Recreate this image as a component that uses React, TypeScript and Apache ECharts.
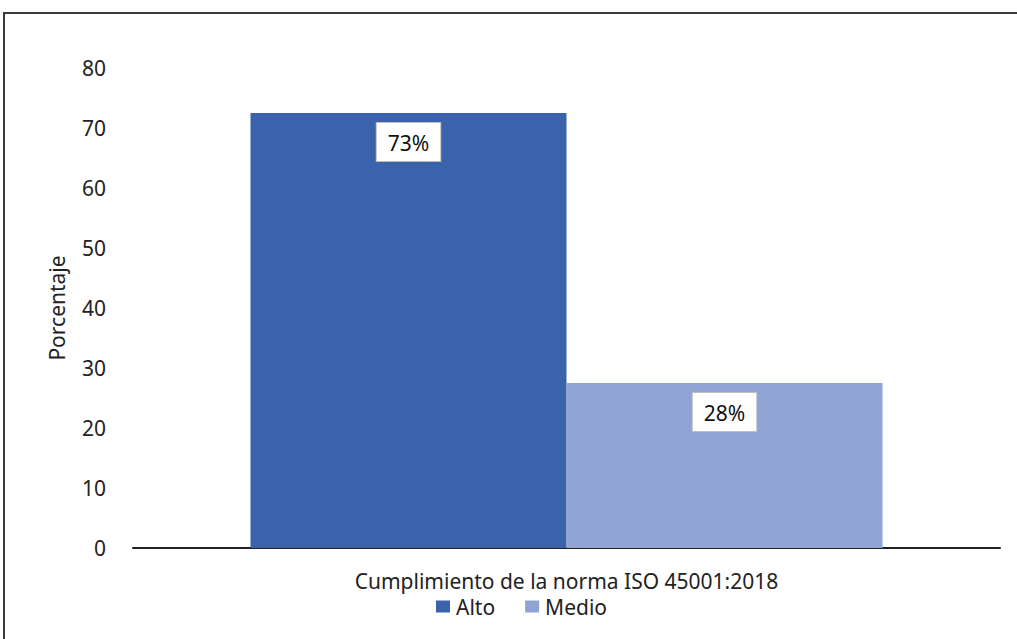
import React, { useEffect, useRef } from "react";
import * as echarts from "echarts";

const categories = ["Cumplimiento de la norma ISO 45001:2018"];
const seriesNames = ["Alto", "Medio"];
const altoValues = [72.5];
const medioValues = [27.5];
const yTicks = { min: 0, max: 80, interval: 10 };
const colors = ["#3B63AC", "#8FA4D4"];

const FONT = "Noto Sans";
const FS = 21;

export default function App() {
  const ref = useRef<HTMLDivElement>(null);
  useEffect(() => {
    const chart = echarts.init(ref.current!, null, { renderer: "svg" });
    const labelStyle = {
      show: true,
      position: "insideTop",
      distance: 10,
      formatter: (p: any) => Math.round(p.value) + "%",
      backgroundColor: "#ffffff",
      borderColor: "#bdbdbd",
      borderWidth: 1,
      padding: [9, 11, 8, 11],
      color: "#111",
      fontFamily: FONT,
      fontSize: FS,
      lineHeight: FS,
    };
    chart.setOption({
      animation: false,
      textStyle: { fontFamily: FONT },
      graphic: [
        {
          type: "rect",
          shape: { x: 4, y: 13, width: 1100, height: 700 },
          style: { fill: "none", stroke: "#3a3a3a", lineWidth: 2 },
          silent: true,
        },
      ],
      grid: { left: 133, right: 17, top: 68, bottom: 91, containLabel: false },
      legend: {
        data: seriesNames,
        left: 431,
        top: 591,
        itemWidth: 14,
        itemHeight: 12,
        itemGap: 30,
        icon: "rect",
        textStyle: { fontFamily: FONT, fontSize: FS, color: "#222", padding: [0, 0, 0, 1] },
      },
      xAxis: {
        type: "category",
        data: categories,
        axisLine: { lineStyle: { color: "#222", width: 2 } },
        axisTick: { show: false },
        axisLabel: { color: "#222", fontSize: FS, fontFamily: FONT, margin: 22 },
      },
      yAxis: {
        type: "value",
        min: yTicks.min,
        max: yTicks.max,
        interval: yTicks.interval,
        name: "Porcentaje",
        nameLocation: "middle",
        nameGap: 66,
        nameTextStyle: { color: "#222", fontSize: FS, fontFamily: FONT },
        axisLine: { show: false },
        axisTick: { show: false },
        splitLine: { show: false },
        axisLabel: { color: "#222", fontSize: FS, fontFamily: FONT, margin: 27 },
      },
      series: [
        {
          name: seriesNames[0],
          type: "bar",
          data: altoValues,
          barWidth: 316,
          barGap: "0%",
          itemStyle: { color: colors[0] },
          label: labelStyle,
        },
        {
          name: seriesNames[1],
          type: "bar",
          data: medioValues,
          barWidth: 316,
          barGap: "0%",
          itemStyle: { color: colors[1] },
          label: labelStyle,
        },
      ],
    });
    return () => chart.dispose();
  }, []);
  return (
    <div
      ref={ref}
      style={{ position: "fixed", left: 0, top: 0, width: 1017, height: 639, background: "#fff" }}
    />
  );
}
